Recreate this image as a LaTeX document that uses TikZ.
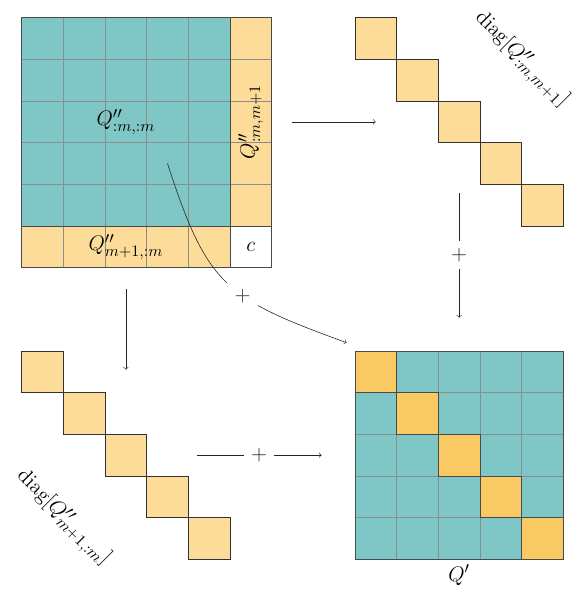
\documentclass[tikz,border=0pt]{standalone}
\usetikzlibrary{calc}
\definecolor{tealc}{HTML}{7FC7C6}
\definecolor{sandc}{HTML}{FCDC98}
\definecolor{goldc}{HTML}{F9CA63}
\definecolor{gridc}{HTML}{8C8C8C}
\definecolor{edgec}{HTML}{4A4A4A}

\begin{document}
\begin{tikzpicture}[font=\fontsize{15}{18}\selectfont]

		\tikzstyle{block}  = [draw=edgec, line width=0.6pt]
		\tikzstyle{diagsq} = [fill=sandc, draw=black!80, line width=0.6pt]
		\tikzstyle{plus}   = [fill=white, inner sep=5pt]
		\tikzstyle{link}   = [->, black!85]

		\useasboundingbox (-0.52,0.425) rectangle (13.52,-13.88);

		%%Matrix Q'' with its last row and column
		\fill[tealc] (0,0) rectangle (5,-5);
		\fill[sandc] (5,0) rectangle (6,-5);
		\fill[sandc] (0,-5) rectangle (5,-6);
		\draw[gridc] (0,-6) grid (6,0);
		\fill[white] (5,-5) rectangle (6,-6);
		\draw[block] (0,0) rectangle (5,-5);
		\draw[block] (5,-5) rectangle (6,-6);
		\draw[block] (0,0) rectangle (6,-6);
		%%Labels for the blocks
		\node (qmm) at (2.5, -2.5) {$Q''_{:m,:m}$};
		\node (qrow) at (2.5, -5.5) {$Q''_{m+1,:m}$};
		\node [rotate=90](qcol) at (5.5, -2.5) {$Q''_{:m,m+1}$};
		\node (c) at (5.5, -5.5) {$c$};

		%%Diagonal of the last column
		\draw[diagsq] (8,0) rectangle (9,-1);
		\draw[diagsq] (9,-1) rectangle (10,-2);
		\draw[diagsq] (10,-2) rectangle (11,-3);
		\draw[diagsq] (11,-3) rectangle (12,-4);
		\draw[diagsq] (12,-4) rectangle (13,-5);
		\node [rotate=-45](dcol) at (12, -1) {$\mathrm{diag}\Big[Q''_{:m,m+1}\Big]$};

		%%Diagonal of the last row
		\draw[diagsq] (0,-8) rectangle (1,-9);
		\draw[diagsq] (1,-9) rectangle (2,-10);
		\draw[diagsq] (2,-10) rectangle (3,-11);
		\draw[diagsq] (3,-11) rectangle (4,-12);
		\draw[diagsq] (4,-12) rectangle (5,-13);
		\node [rotate=-45](drow) at (1, -12) {$\mathrm{diag}\Big[Q''_{m+1,:m}\Big]$};

		%%Result Q'
		\fill[tealc] (8,-8) rectangle (13,-13);
		\draw[gridc] (8,-13) grid (13,-8);
		\draw[block, fill=goldc] (8,-8) rectangle (9,-9);
		\draw[block, fill=goldc] (9,-9) rectangle (10,-10);
		\draw[block, fill=goldc] (10,-10) rectangle (11,-11);
		\draw[block, fill=goldc] (11,-11) rectangle (12,-12);
		\draw[block, fill=goldc] (12,-12) rectangle (13,-13);
		\draw[block] (8,-8) rectangle (13,-13);
		\node [below](qp) at (10.5, -13) {$Q'$};

		%%Arrows
		\coordinate (r1) at (6.5, -2.5);
		\coordinate (r2) at (8.5, -2.5);
		\coordinate (d1) at (2.5, -6.5);
		\coordinate (d2) at (2.5, -8.45);
		\coordinate (v1) at (10.5, -4.2);
		\coordinate (v2) at (10.5, -7.2);
		\coordinate (h1) at (4.2, -10.5);
		\coordinate (h2) at (7.2, -10.5);
		\coordinate (s) at (3.5, -3.5);
		\coordinate (e) at (7.8, -7.8);

		\draw[link] (r1)--(r2);
		\draw[link] (d1)--(d2);
		\draw[link] (v1)-- node[plus](pv){$+$} (v2);
		\draw[link] (h1)-- node[plus](ph){$+$} (h2);
		\draw[link] (s) to[out=-72, in=160, looseness=1.3] node[plus, pos=0.6](pc){$+$} (e);
	\end{tikzpicture}
\end{document}
